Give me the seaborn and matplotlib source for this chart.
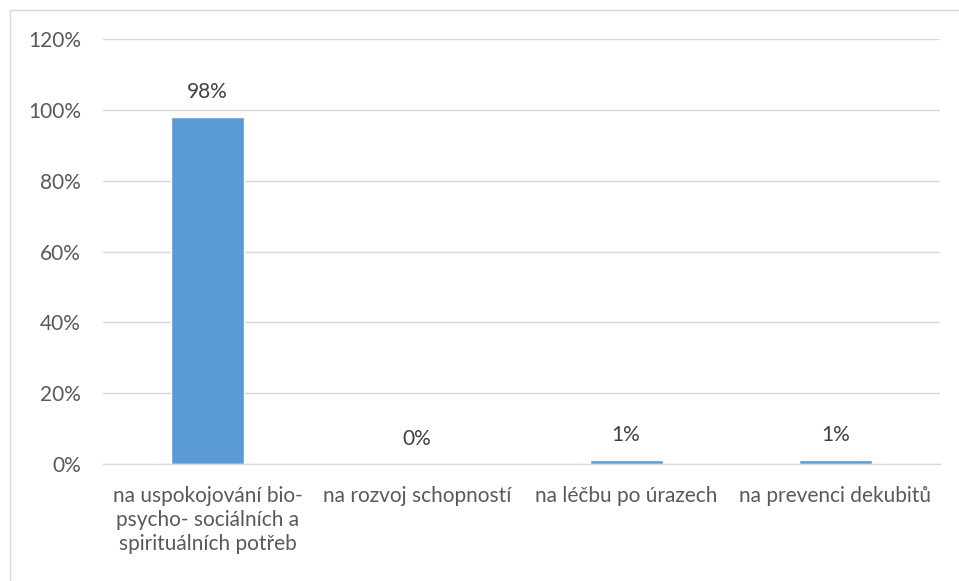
import numpy as np
import pandas as pd
import matplotlib
matplotlib.use("Agg")
import matplotlib.pyplot as plt
import seaborn as sns
from matplotlib.ticker import FuncFormatter

categories = ["na uspokojování bio-\npsycho- sociálních a\nspirituálních potřeb",
              "na rozvoj schopností",
              "na léčbu po úrazech",
              "na prevenci dekubitů"]
values = [0.98, 0.00, 0.01, 0.01]
value_labels = ["98%", "0%", "1%", "1%"]
yticks = [0, 0.2, 0.4, 0.6, 0.8, 1.0, 1.2]

sns.set_style("white")
plt.rcParams['font.family'] = ['Lato', 'DejaVu Sans']

df = pd.DataFrame({"cat": categories, "val": values})

fig = plt.figure(figsize=(9.59, 5.81), dpi=100)
ax = fig.add_axes([103/959, 1 - 464/581, (940-103)/959, (464-39)/581])

sns.barplot(data=df, x="cat", y="val", color="#5B9BD5", width=0.35,
            saturation=1, ax=ax)

ax.set_ylim(0, 1.2)
ax.set_yticks(yticks)
ax.yaxis.set_major_formatter(FuncFormatter(lambda v, p: f"{v*100:.0f}%"))
ax.grid(axis="y", color="#D9D9D9", linewidth=1)
ax.set_axisbelow(True)
for s in ["top", "right", "left"]:
    ax.spines[s].set_visible(False)
ax.spines["bottom"].set_color("#D9D9D9")
ax.spines["bottom"].set_linewidth(1)
ax.set_xlabel("")
ax.set_ylabel("")
ax.tick_params(axis="both", length=0, labelsize=15, colors="#595959")
ax.tick_params(axis="x", pad=16)
ax.tick_params(axis="y", pad=16)
for lbl in ax.get_xticklabels():
    lbl.set_linespacing(1.25)

for i, (v, t) in enumerate(zip(values, value_labels)):
    ax.annotate(t, (i, v), xytext=(0, 11), textcoords="offset points",
                ha="center", va="bottom", fontsize=15, color="#404040")

# chart border (only top and left visible in the crop)
fig.add_artist(plt.Line2D([10/959, 1], [1 - 10/581, 1 - 10/581],
                          transform=fig.transFigure, color="#D9D9D9", lw=1))
fig.add_artist(plt.Line2D([10/959, 10/959], [0, 1 - 10/581],
                          transform=fig.transFigure, color="#D9D9D9", lw=1))

fig.savefig("out.png", dpi=100)
